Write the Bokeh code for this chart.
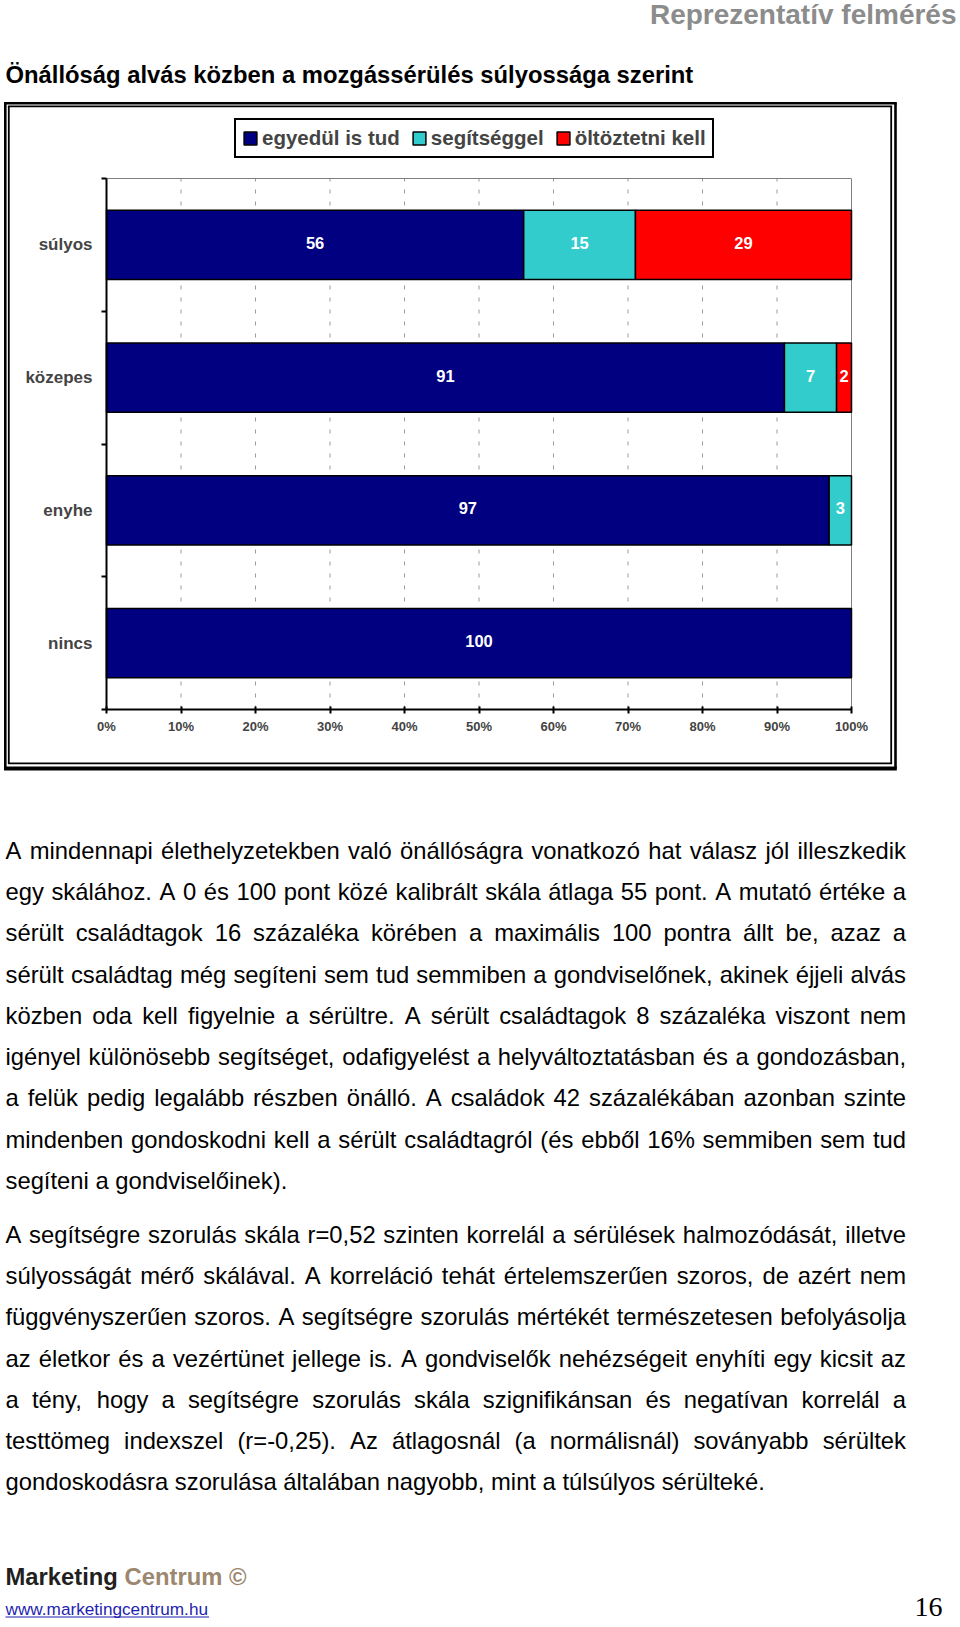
from bokeh.plotting import figure
from bokeh.models import Range1d, FixedTicker, Legend, LegendItem, ColumnDataSource, LinearAxis
from bokeh.core.properties import value
from bokeh.embed import file_html
from bokeh.resources import INLINE

# ---------------- data ----------------
categories = ["súlyos", "közepes", "enyhe", "nincs"]
series_names = ["egyedül is tud", "segítséggel", "öltöztetni kell"]
egyedul_is_tud = [56, 91, 97, 100]
segitseggel = [15, 7, 3, 0]
oltoztetni_kell = [29, 2, 0, 0]
series_colors = ["#000080", "#33CCCC", "#FF0000"]
x_ticks = [0, 10, 20, 30, 40, 50, 60, 70, 80, 90, 100]
x_tick_labels = ["0%", "10%", "20%", "30%", "40%", "50%", "60%", "70%", "80%", "90%", "100%"]

header_text = "Reprezentatív felmérés"
title_text = "Önállóság alvás közben a mozgássérülés súlyossága szerint"
paragraph_1 = [
    "A mindennapi élethelyzetekben való önállóságra vonatkozó hat válasz jól illeszkedik",
    "egy skálához. A 0 és 100 pont közé kalibrált skála átlaga 55 pont. A mutató értéke a",
    "sérült családtagok 16 százaléka körében a maximális 100 pontra állt be, azaz a",
    "sérült családtag még segíteni sem tud semmiben a gondviselőnek, akinek éjjeli alvás",
    "közben oda kell figyelnie a sérültre. A sérült családtagok 8 százaléka viszont nem",
    "igényel különösebb segítséget, odafigyelést a helyváltoztatásban és a gondozásban,",
    "a felük pedig legalább részben önálló. A családok 42 százalékában azonban szinte",
    "mindenben gondoskodni kell a sérült családtagról (és ebből 16% semmiben sem tud",
    "segíteni a gondviselőinek).",
]
paragraph_2 = [
    "A segítségre szorulás skála r=0,52 szinten korrelál a sérülések halmozódását, illetve",
    "súlyosságát mérő skálával. A korreláció tehát értelemszerűen szoros, de azért nem",
    "függvényszerűen szoros. A segítségre szorulás mértékét természetesen befolyásolja",
    "az életkor és a vezértünet jellege is. A gondviselők nehézségeit enyhíti egy kicsit az",
    "a tény, hogy a segítségre szorulás skála szignifikánsan és negatívan korrelál a",
    "testtömeg indexszel (r=-0,25). Az átlagosnál (a normálisnál) soványabb sérültek",
    "gondoskodásra szorulása általában nagyobb, mint a túlsúlyos sérülteké.",
]
footer_brand = ["Marketing", "Centrum ©"]
footer_url = "www.marketingcentrum.hu"
page_number = "16"

# ---------------- styling / layout constants ----------------
FONT = "Liberation Sans"
BODY_FS = 23.8
PAGE_W, PAGE_H = 960, 1627
BASE_SHIFT = 0.37  # empirical correction of the rendered alphabetic baseline (in em)

# Arial / Liberation Sans advance widths (1/1000 em)
REG = {" ": 278, "(": 333, ")": 333, ",": 278, "-": 333, ".": 278, "%": 889, "=": 584, ":": 278,
       "A": 667, "B": 667, "C": 722, "D": 722, "E": 667, "F": 611, "G": 778, "H": 722, "I": 278,
       "J": 500, "K": 667, "L": 556, "M": 833, "N": 722, "O": 778, "P": 667, "R": 722, "S": 667,
       "T": 611, "U": 722, "V": 667, "W": 944, "Z": 611,
       "a": 556, "b": 556, "c": 500, "d": 556, "e": 556, "f": 278, "g": 556, "h": 556, "i": 222,
       "j": 222, "k": 500, "l": 222, "m": 833, "n": 556, "o": 556, "p": 556, "q": 556, "r": 333,
       "s": 500, "t": 278, "u": 556, "v": 500, "w": 722, "x": 500, "y": 500, "z": 500,
       "á": 556, "é": 556, "í": 278, "ó": 556, "ö": 556, "ő": 556, "ú": 556, "ü": 556, "ű": 556}
BOLD = {" ": 278, "M": 833, "C": 722, "a": 556, "r": 389, "k": 556, "e": 556, "t": 333, "i": 278,
        "n": 611, "g": 611, "u": 611, "m": 889, "©": 737}


def text_w(s, fs, table):
    return sum(table.get(c, 556) for c in s) * fs / 1000.0


def by(baseline, fs):
    return baseline - BASE_SHIFT * fs


# chart plot area on the page (pixels)
FRAME_L, FRAME_R, FRAME_T, FRAME_B = 106, 851, 178, 709
n = len(categories)
px_per_pct = (FRAME_R - FRAME_L) / 100.0
px_per_cat = (FRAME_B - FRAME_T) / float(n)
PCT_START = -FRAME_L / px_per_pct
PCT_END = PCT_START + PAGE_W / px_per_pct
CAT_START = -(PAGE_H - FRAME_B) / px_per_cat
CAT_END = FRAME_B / px_per_cat

# chart box (double border) geometry, page pixels
OUT_L, OUT_R, OUT_T, OUT_B = 4.8, 895.0, 102.8, 768.0
IN_L, IN_R, IN_T, IN_B = 8.3, 890.7, 105.8, 762.8
OUT_W, IN_W = 2.6, 1.8

p = figure(width=PAGE_W, height=PAGE_H, x_range=Range1d(0, PAGE_W), y_range=Range1d(PAGE_H, 0),
           x_axis_location=None, y_axis_location=None, min_border=0,
           toolbar_location=None, output_backend="svg", title=None)
p.grid.visible = False
p.outline_line_color = None
p.background_fill_color = "white"
p.border_fill_color = "white"
p.extra_x_ranges = {"pct": Range1d(PCT_START, PCT_END)}
p.extra_y_ranges = {"cat": Range1d(CAT_START, CAT_END)}

# ---------------- header ----------------
p.text(x=[956], y=[by(24.5, 28)], text=[header_text], text_font=value(FONT), text_font_size="28px",
       text_font_style="bold", text_color="#8c8c8c", text_align="right", text_baseline="alphabetic")
p.text(x=[5], y=[by(83, BODY_FS)], text=[title_text], text_font=value(FONT), text_font_size=f"{BODY_FS}px",
       text_font_style="bold", text_color="black", text_align="left", text_baseline="alphabetic")

# ---------------- chart box ----------------
p.segment(x0=[OUT_L - OUT_W / 2, OUT_L, OUT_R], y0=[OUT_T, OUT_T, OUT_T],
          x1=[OUT_R + OUT_W / 2, OUT_L, OUT_R], y1=[OUT_T, OUT_B, OUT_B],
          line_color="black", line_width=OUT_W)
p.segment(x0=[OUT_L - OUT_W / 2], y0=[OUT_B], x1=[OUT_R + OUT_W / 2], y1=[OUT_B],
          line_color="black", line_width=4)
p.segment(x0=[IN_L - IN_W / 2, IN_L, IN_R, IN_L - IN_W / 2], y0=[IN_T, IN_T, IN_T, IN_B],
          x1=[IN_R + IN_W / 2, IN_L, IN_R, IN_R + IN_W / 2], y1=[IN_T, IN_B, IN_B, IN_B],
          line_color="black", line_width=IN_W)

# ---------------- chart ----------------
ypos = [n - 0.5 - i for i in range(n)]
RN = dict(x_range_name="pct", y_range_name="cat")

# dashed vertical gridlines and grey plot-area border
grid_x = x_ticks[1:-1]
p.segment(x0=grid_x, y0=[0] * len(grid_x), x1=grid_x, y1=[n] * len(grid_x),
          line_color="#9a9a9a", line_width=1, line_dash="4 8", **RN)
p.segment(x0=[x_ticks[0], x_ticks[-1]], y0=[n, 0], x1=[x_ticks[-1], x_ticks[-1]], y1=[n, n],
          line_color="#808080", line_width=1, **RN)

cum = [0] * n
renderers = []
for name, vals, col in zip(series_names, [egyedul_is_tud, segitseggel, oltoztetni_kell], series_colors):
    idx = [i for i in range(n) if vals[i] > 0]
    src = ColumnDataSource(dict(
        y=[ypos[i] for i in idx],
        left=[cum[i] for i in idx],
        right=[cum[i] + vals[i] for i in idx],
        mid=[cum[i] + vals[i] / 2 for i in idx],
        label=[str(vals[i]) for i in idx],
    ))
    r = p.hbar(y="y", left="left", right="right", height=0.52, source=src,
               fill_color=col, line_color="black", line_width=1.5, **RN)
    p.text(x="mid", y="y", text="label", source=src, text_color="white",
           text_font=value(FONT), text_font_size="16.5px", text_font_style="bold",
           text_align="center", text_baseline="middle", y_offset=-2, **RN)
    renderers.append(r)
    for i in range(n):
        cum[i] += vals[i]

xa = LinearAxis(x_range_name="pct", y_range_name="cat", fixed_location=0, bounds=(x_ticks[0], x_ticks[-1]))
xa.ticker = FixedTicker(ticks=x_ticks, minor_ticks=[])
xa.major_label_overrides = {t: lab for t, lab in zip(x_ticks, x_tick_labels)}
xa.major_label_text_font = FONT
xa.major_label_text_font_style = "bold"
xa.major_label_text_font_size = "13px"
xa.major_label_standoff = 5
xa.major_tick_in = 3
xa.major_tick_out = 4
xa.major_tick_line_width = 2
xa.axis_line_width = 2
xa.axis_line_color = "black"
p.add_layout(xa, "below")

ya = LinearAxis(x_range_name="pct", y_range_name="cat", fixed_location=0, bounds=(0, n))
ya.ticker = FixedTicker(ticks=ypos, minor_ticks=list(range(n + 1)))
ya.major_label_overrides = {y: c for y, c in zip(ypos, categories)}
ya.major_label_text_font = FONT
ya.major_label_text_font_style = "bold"
ya.major_label_text_font_size = "17px"
ya.major_label_standoff = 9
ya.major_tick_in = 0
ya.major_tick_out = 0
ya.minor_tick_in = 0
ya.minor_tick_out = 5
ya.minor_tick_line_width = 2
ya.minor_tick_line_color = "black"
ya.axis_line_width = 2
ya.axis_line_color = "black"
p.add_layout(ya, "left")

LEG_L, LEG_B = 234, 158.3
legend = Legend(items=[LegendItem(label=nm, renderers=[r]) for nm, r in zip(series_names, renderers)],
                orientation="horizontal", location=(LEG_L, PAGE_H - LEG_B), margin=0,
                glyph_width=16, glyph_height=16, label_standoff=4, spacing=11, padding=6,
                border_line_color="black", border_line_width=2, border_line_alpha=1.0,
                background_fill_color="white", background_fill_alpha=1.0,
                label_text_font=FONT, label_text_font_style="bold", label_text_font_size="20.5px")
p.add_layout(legend, "center")

# ---------------- body text ----------------
TEXT_L, TEXT_R = 5.0, 905.5
LINE_STEP = 41.3


def place_paragraph(lines, first_baseline):
    xs, ys, words_out = [], [], []
    for k, line in enumerate(lines):
        words = line.split(" ")
        widths = [text_w(w, BODY_FS, REG) for w in words]
        last = (k == len(lines) - 1)
        if not last and len(words) > 1:
            gap = (TEXT_R - TEXT_L - sum(widths)) / (len(words) - 1)
        else:
            gap = REG[" "] * BODY_FS / 1000.0
        x = TEXT_L
        for w, wd in zip(words, widths):
            xs.append(x)
            ys.append(by(first_baseline + k * LINE_STEP, BODY_FS))
            words_out.append(w)
            x += wd + gap
    p.text(x=xs, y=ys, text=words_out, text_font=value(FONT), text_font_size=f"{BODY_FS}px",
           text_color="black", text_align="left", text_baseline="alphabetic")


place_paragraph(paragraph_1, 858.5)
place_paragraph(paragraph_2, 1242.5)

# ---------------- footer ----------------
brand_x2 = 5 + text_w(footer_brand[0] + " ", BODY_FS, BOLD)
p.text(x=[5], y=[by(1585, BODY_FS)], text=[footer_brand[0]], text_font=value(FONT),
       text_font_size=f"{BODY_FS}px", text_font_style="bold", text_color="#231f20",
       text_baseline="alphabetic")
p.text(x=[brand_x2], y=[by(1585, BODY_FS)], text=[footer_brand[1]], text_font=value(FONT),
       text_font_size=f"{BODY_FS}px", text_font_style="bold", text_color="#9c8770",
       text_baseline="alphabetic")
URL_FS = 17.2
p.text(x=[5], y=[by(1614.5, URL_FS)], text=[footer_url], text_font=value(FONT),
       text_font_size=f"{URL_FS}px", text_color="#1f1fb0", text_baseline="alphabetic")
p.segment(x0=[5], y0=[1616.5], x1=[5 + text_w(footer_url, URL_FS, REG)], y1=[1616.5],
          line_color="#1f1fb0", line_width=1)
p.text(x=[942], y=[by(1617, 28)], text=[page_number], text_font=value("Liberation Serif"),
       text_font_size="28px", text_color="black", text_align="right", text_baseline="alphabetic")

open("out.html", "w").write(file_html(p, INLINE))
